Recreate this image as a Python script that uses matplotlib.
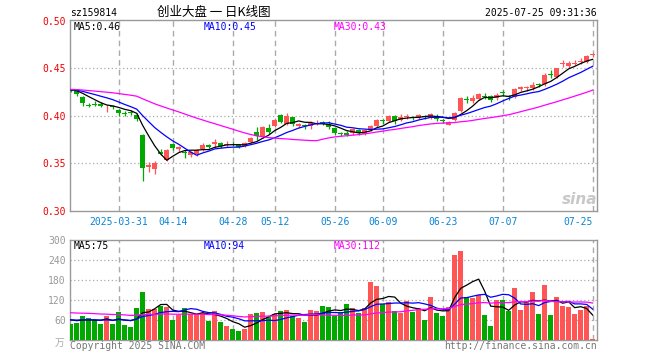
import numpy as np
import pandas as pd
import matplotlib
matplotlib.use("Agg")
import matplotlib.pyplot as plt

# daily candles, sz159814, 2025-03-19 .. 2025-07-25
opens = [0.427, 0.426, 0.420, 0.412, 0.413, 0.413, 0.410, 0.410, 0.406, 0.403,
         0.404, 0.401, 0.380, 0.346, 0.344, 0.362, 0.354, 0.371, 0.365, 0.362,
         0.359, 0.360, 0.365, 0.369, 0.370, 0.372, 0.369, 0.371, 0.369, 0.368,
         0.373, 0.383, 0.378, 0.387, 0.389, 0.401, 0.392, 0.399, 0.389, 0.390,
         0.389, 0.392, 0.394, 0.392, 0.387, 0.382, 0.382, 0.382, 0.385, 0.381,
         0.385, 0.389, 0.396, 0.395, 0.400, 0.396, 0.399, 0.399, 0.398, 0.400,
         0.398, 0.400, 0.396, 0.391, 0.396, 0.405, 0.418, 0.416, 0.418, 0.421,
         0.421, 0.419, 0.425, 0.421, 0.420, 0.428, 0.429, 0.429, 0.434, 0.434,
         0.444, 0.441, 0.455, 0.453, 0.455, 0.457, 0.457, 0.464]
highs = [0.428, 0.427, 0.421, 0.414, 0.416, 0.415, 0.412, 0.412, 0.407, 0.405,
         0.406, 0.403, 0.381, 0.352, 0.353, 0.365, 0.365, 0.372, 0.368, 0.364,
         0.363, 0.365, 0.372, 0.370, 0.376, 0.373, 0.374, 0.373, 0.370, 0.373,
         0.378, 0.388, 0.389, 0.392, 0.397, 0.402, 0.403, 0.399, 0.393, 0.392,
         0.395, 0.396, 0.395, 0.395, 0.388, 0.383, 0.384, 0.387, 0.386, 0.386,
         0.391, 0.397, 0.397, 0.401, 0.401, 0.402, 0.402, 0.400, 0.402, 0.401,
         0.403, 0.402, 0.397, 0.395, 0.404, 0.420, 0.421, 0.422, 0.424, 0.424,
         0.422, 0.424, 0.427, 0.422, 0.429, 0.432, 0.432, 0.436, 0.435, 0.445,
         0.448, 0.451, 0.459, 0.458, 0.459, 0.461, 0.464, 0.466]
lows = [0.425, 0.421, 0.411, 0.409, 0.410, 0.409, 0.404, 0.407, 0.400, 0.400,
        0.401, 0.395, 0.332, 0.341, 0.339, 0.359, 0.353, 0.364, 0.362, 0.356,
        0.357, 0.358, 0.363, 0.366, 0.366, 0.366, 0.367, 0.368, 0.366, 0.367,
        0.372, 0.375, 0.377, 0.381, 0.388, 0.393, 0.390, 0.389, 0.387, 0.386,
        0.386, 0.391, 0.391, 0.386, 0.380, 0.379, 0.379, 0.380, 0.380, 0.380,
        0.384, 0.388, 0.392, 0.394, 0.392, 0.395, 0.397, 0.396, 0.397, 0.397,
        0.397, 0.395, 0.393, 0.390, 0.395, 0.404, 0.414, 0.414, 0.417, 0.418,
        0.415, 0.417, 0.421, 0.417, 0.419, 0.426, 0.426, 0.427, 0.431, 0.432,
        0.440, 0.440, 0.452, 0.450, 0.454, 0.455, 0.456, 0.462]
closes = [0.426, 0.423, 0.414, 0.411, 0.412, 0.410, 0.411, 0.409, 0.403, 0.402,
          0.403, 0.397, 0.345, 0.348, 0.350, 0.360, 0.364, 0.366, 0.367, 0.361,
          0.362, 0.364, 0.369, 0.367, 0.373, 0.368, 0.371, 0.370, 0.367, 0.372,
          0.377, 0.379, 0.388, 0.383, 0.396, 0.394, 0.400, 0.392, 0.392, 0.389,
          0.393, 0.393, 0.392, 0.388, 0.382, 0.381, 0.380, 0.386, 0.382, 0.385,
          0.389, 0.396, 0.395, 0.400, 0.395, 0.399, 0.400, 0.398, 0.401, 0.399,
          0.402, 0.397, 0.395, 0.394, 0.403, 0.419, 0.417, 0.419, 0.423, 0.420,
          0.417, 0.422, 0.424, 0.420, 0.428, 0.430, 0.430, 0.433, 0.433, 0.443,
          0.443, 0.450, 0.456, 0.456, 0.456, 0.458, 0.463, 0.465]
# volume, 万手
volumes = [49, 52, 72, 65, 59, 49, 72, 49, 85, 45, 39, 97, 145, 94, 94, 102, 99, 60,
           75, 97, 79, 77, 82, 57, 87, 55, 42, 34, 27, 34, 79, 82, 85, 69, 77, 87,
           91, 72, 67, 55, 91, 87, 102, 99, 72, 82, 109, 96, 82, 96, 173, 163, 108,
           113, 87, 82, 118, 84, 96, 59, 128, 82, 72, 99, 256, 266, 130, 125, 136,
           75, 42, 120, 121, 87, 155, 90, 118, 145, 79, 166, 75, 130, 102, 99, 79,
           90, 102, 4]

tick_idx = [8, 17, 27, 34, 44, 52, 62, 72, 87]
tick_labels = ["2025-03-31", "04-14", "04-28", "05-12", "05-26",
               "06-09", "06-23", "07-07", "07-25"]

ma_windows = [5, 10, 30]
ma_colors = ["#000000", "#0000ff", "#ff00ff"]
price_prior = [0.428, 0.428, 0.428]
vol_prior = [63, 62, 83]
price_ma_text = ["MA5:0.46", "MA10:0.45", "MA30:0.43"]
vol_ma_text = ["MA5:75", "MA10:94", "MA30:112"]

RED = "#ff5555"
GREEN = "#00a800"
GRID = "#aaaaaa"
FRAME = "#999999"
BLUE_TXT = "#0a84d6"
MONO = "DejaVu Sans Mono"
W, H = 660, 360


def fx(px):
    return px / W


def fy(py):
    return 1 - py / H


def moving_avg(values, n, prior):
    s = pd.Series([prior] * (n - 1) + list(values), dtype=float)
    return s.rolling(n).mean().to_numpy()[n - 1:]


x = np.arange(len(closes))
o, h, l, c = map(np.array, (opens, highs, lows, closes))
colors = np.where(c >= o, RED, GREEN)

fig = plt.figure(figsize=(6.6, 3.6), dpi=100)
ax = fig.add_axes([fx(70), fy(211), 527 / W, 191 / H])
axv = fig.add_axes([fx(70), fy(340), 527 / W, 100 / H])

# price panel
ax.vlines(x, l, h, colors=colors, lw=0.9, zorder=3)
body = np.maximum(np.abs(c - o), 0.0008)
ax.bar(x, body, bottom=np.minimum(o, c), width=0.75, color=colors, lw=0, zorder=3)
for n, col, pr in zip(ma_windows, ma_colors, price_prior):
    ax.plot(x, moving_avg(closes, n, pr), color=col, lw=0.9, zorder=4)

# volume panel
axv.bar(x, volumes, width=0.78, color=colors, lw=0, zorder=3)
for n, col, pr in zip(ma_windows, ma_colors, vol_prior):
    axv.plot(x, moving_avg(volumes, n, pr), color=col, lw=0.9, zorder=4)

for a in (ax, axv):
    a.set_xlim(-0.12, 87.72)
    for t in tick_idx:
        a.axvline(t, color=GRID, lw=1, ls=(0, (4, 3)), zorder=1)
    for s in a.spines.values():
        s.set_color(FRAME)
        s.set_linewidth(1)
    a.tick_params(length=0, labelsize=7)

ax.set_ylim(0.30, 0.501)
for g in (0.35, 0.40, 0.45):
    ax.axhline(g, color=GRID, lw=0.9, ls=(0, (1, 2)), zorder=1)
ax.set_yticks([0.30, 0.35, 0.40, 0.45, 0.50])
ax.set_yticklabels(["0.30", "0.35", "0.40", "0.45", "0.50"], color="#ee0000",
                   family=MONO, fontsize=7)
ax.tick_params(axis="y", pad=3)
ax.set_xticks(tick_idx)
ax.set_xticklabels(tick_labels, color=BLUE_TXT, family=MONO, fontsize=7)
ax.tick_params(axis="x", pad=4)
ax.get_xticklabels()[-1].set_ha("right")
ax.get_xticklabels()[-1].set_x(87.4)

axv.set_ylim(0, 300)
for g in (60, 120, 180, 240):
    axv.axhline(g, color=GRID, lw=0.9, ls=(0, (1, 2)), zorder=1)
axv.set_yticks([60, 120, 180, 240, 300])
axv.set_yticklabels(["60", "120", "180", "240", "300"], color=FRAME,
                    family=MONO, fontsize=7)
axv.tick_params(axis="y", pad=3)
axv.set_xticks([])

# legends of the moving averages
for txt, col, px in zip(price_ma_text, ma_colors, [74, 204, 334]):
    fig.text(fx(px), fy(26.5), txt, color=col, family=MONO, fontsize=7, va="center")
for txt, col, px in zip(vol_ma_text, ma_colors, [74, 204, 334]):
    fig.text(fx(px), fy(246), txt, color=col, family=MONO, fontsize=7, va="center")

# header and footer
fig.text(fx(70), fy(13), "sz159814", family=MONO, fontsize=7, va="center")
fig.text(fx(214), fy(12), "创业大盘 一 日K线图", family=["Noto Sans CJK SC", "DejaVu Sans"],
         fontsize=9, ha="center", va="center")
fig.text(fx(597), fy(13), "2025-07-25 09:31:36", family=MONO, fontsize=7,
         ha="right", va="center")
fig.text(fx(70), fy(346), "Copyright 2025 SINA.COM", family=MONO, fontsize=7,
         color="#777777", va="center")
fig.text(fx(597), fy(346), "http://finance.sina.com.cn", family=MONO, fontsize=7,
         color="#777777", ha="right", va="center")
fig.text(fx(64), fy(343), "万", family=["Noto Sans CJK SC", "DejaVu Sans"], fontsize=7,
         color="#aaaaaa", ha="right", va="center")
fig.text(fx(597), fy(200), "sina", family="DejaVu Sans", fontsize=11, style="italic",
         weight="bold", color="#c8c8c8", ha="right", va="center")

fig.savefig("out.png", dpi=100)
